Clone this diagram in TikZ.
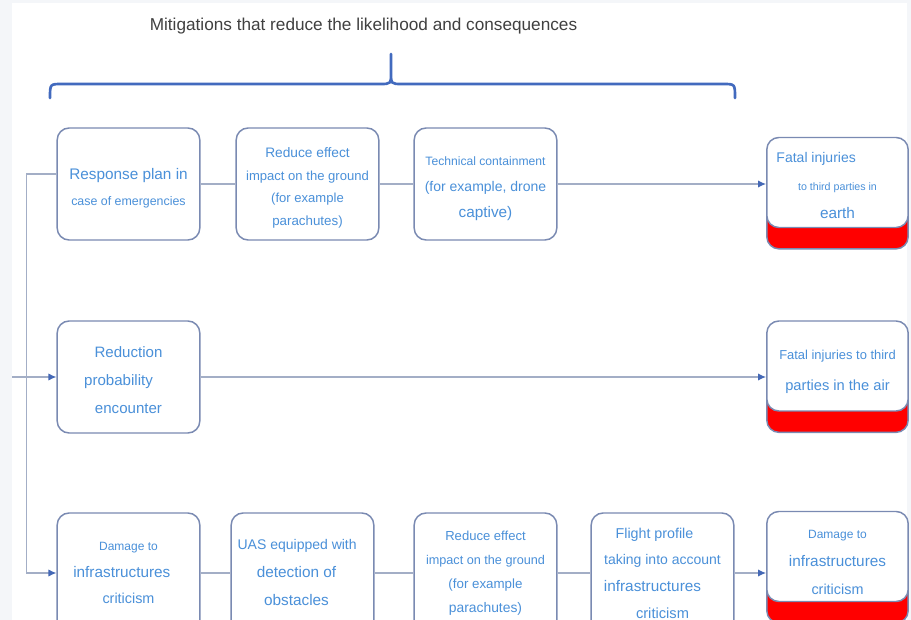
\documentclass[tikz,border=0pt]{standalone}
\usepackage{fontspec}
\setmainfont{Liberation Sans}
\usetikzlibrary{arrows.meta, shadows}

\definecolor{textblue}{RGB}{74,144,217}
\definecolor{boxline}{RGB}{122,138,178}
\definecolor{linkgray}{RGB}{163,174,198}
\definecolor{tipblue}{RGB}{68,104,182}
\definecolor{braceblue}{RGB}{66,106,190}
\definecolor{titlegray}{RGB}{64,64,64}
\definecolor{pagegray}{RGB}{244,246,249}

\newcommand{\lsize}[2][20]{\fontsize{#2}{#1}\selectfont}
\newcommand{\lift}[1]{\rule{0pt}{#1}}

\tikzset{
  mitig/.style={draw=boxline, line width=1.1pt, fill=white, rounded corners=9pt,
    minimum width=107pt, minimum height=84pt, align=center, text=textblue,
    inner sep=2pt, font=\lsize{10}},
  lowmitig/.style={mitig, minimum height=90pt},
  outcome/.style={mitig, minimum width=106pt, minimum height=67.5pt,
    copy shadow={shadow xshift=0pt, shadow yshift=-16pt, fill=red,
      draw=boxline, line width=1.1pt}},
  link/.style={draw=linkgray, line width=1pt},
  arrowlink/.style={link, -{Latex[length=6pt,width=5.5pt,color=tipblue]}},
}

\begin{document}
\begin{tikzpicture}[x=0.75pt, y=-0.75pt]
    % Page and white panel
    \useasboundingbox (0,0) rectangle (911,620);
    \fill[pagegray] (0,0) rectangle (911,620);
    \fill[white] (12,3) rectangle (907,620);

    % Title and brace
    \node[text=titlegray, font=\lsize{12.9}] (title) at (363.5,26)
        {Mitigations that reduce the likelihood and consequences};
    \draw[braceblue, line width=2pt, line cap=round]
        (50,98) .. controls (50,84) .. (62,84) -- (380,84)
        .. controls (391,84) .. (391,72) .. controls (391,84) .. (402,84)
        -- (723,84) .. controls (735,84) .. (735,98)
        (391,72) -- (391,54);

    % Top row: injuries on the earth
    \node[mitig] (plan) at (128.5,184)
        {{\lsize{11.5}\lift{14.5pt}Response plan in}\\{\lsize{9.3}case of emergencies}};
    \node[mitig, font={\lsize[17]{10}}] (reduceA) at (307.5,184)
        {{\lsize[17]{10.3}\lift{13.5pt}Reduce effect}\\{\lsize[17]{9.8}impact on the ground}\\
         {\lsize[17]{9.8}(for example}\\{\lsize[17]{10}parachutes)}};
    \node[mitig, font={\lsize[19.5]{10}}] (contain) at (485.5,184)
        {{\lsize[19.5]{9.1}\lift{14pt}Technical containment}\\{\lsize[19.5]{10.5}(for example, drone}\\
         {\lsize[19.5]{11.5}captive)}};
    \node[outcome, font={\lsize[21]{10}}] (earth) at (837.5,182.5)
        {{\lsize[21]{10.5}\lift{12pt}\hspace*{-32pt}Fatal injuries}\\{\lsize[21]{8}to third parties in}\\
         {\lsize[21]{11.5}earth}};

    % Middle row: injuries in the air
    \node[mitig, font={\lsize[21]{11.3}}] (encounter) at (128.5,377)
        {\lift{12.5pt}Reduction\\\hspace*{-15pt}probability\\encounter};
    \node[outcome, font={\lsize[23]{10}}] (air) at (837.5,366)
        {{\lsize[23]{9.7}\lift{16pt}Fatal injuries to third}\\{\lsize[23]{11}parties in the air}};

    % Bottom row: damage to infrastructures
    \node[lowmitig] (damage) at (128.5,573)
        {{\lsize{9}Damage to}\\{\lsize{11.5}\hspace*{-10pt}infrastructures}\\{\lsize{10.8}criticism}};
    \node[lowmitig, font={\lsize[21]{11.5}}] (uas) at (302.5,573)
        {{\lsize[21]{10.5}\hspace*{-8pt}UAS equipped with}\\\hspace*{-9pt}detection of\\\hspace*{-9pt}obstacles};
    \node[lowmitig, font={\lsize[18]{10}}] (reduceB) at (485.5,573)
        {{\lsize[18]{9.8}Reduce effect}\\{\lsize[18]{9.5}impact on the ground}\\
         (for example\\{\lsize[18]{10.4}parachutes)}};
    \node[lowmitig] (flight) at (662.5,573)
        {{\lsize{10.7}\hspace*{-12pt}Flight profile}\\{\lsize{10.5}taking into account}\\
         {\lsize{11.5}\hspace*{-15pt}infrastructures}\\{\lsize{11}criticism}};
    \node[outcome, font={\lsize[21]{10}}] (dmgout) at (837.5,556.5)
        {{\lsize[21]{9}\lift{15pt}Damage to}\\{\lsize[21]{11.5}infrastructures}\\
         {\lsize[21]{10.8}criticism}};

    % Connectors
    \coordinate (entry) at (12,377);
    \draw[arrowlink] ([yshift=7.5pt]plan.west) -- ++(-30,0) |- (damage.west);
    \draw[arrowlink] (entry) -- (encounter.west);
    \draw[link] (plan) -- (reduceA);
    \draw[link] (reduceA) -- (contain);
    \draw[arrowlink] (contain.east) -- (contain.east -| earth.west);
    \draw[arrowlink] (encounter.east) -- (encounter.east -| air.west);
    \draw[link] (damage) -- (uas);
    \draw[link] (uas) -- (reduceB);
    \draw[link] (reduceB) -- (flight);
    \draw[arrowlink] (flight.east) -- (flight.east -| dmgout.west);
\end{tikzpicture}
\end{document}
